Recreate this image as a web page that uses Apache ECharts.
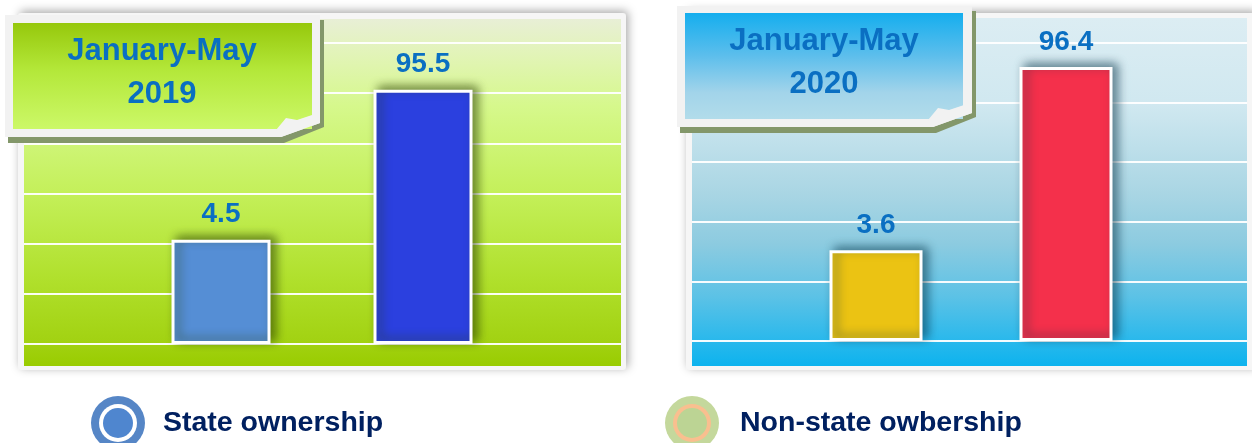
<!DOCTYPE html>
<html><head><meta charset="utf-8">
<script src="https://cdn.jsdelivr.net/npm/echarts@6/dist/echarts.min.js"></script>
<style>html,body{margin:0;padding:0;background:#fff}#c{width:1252px;height:443px}</style>
</head><body><div id="c"></div>
<script>
// ---- data ----
const categories = ['State ownership', 'Non-state owbership'];
const periods = ['January-May\n2019', 'January-May\n2020'];
const share2019 = [4.5, 95.5];
const share2020 = [3.6, 96.4];

// ---- styles ----
const colors2019 = ['#558ed5', '#2b40df'];
const colors2020 = ['#ebc313', '#f4304b'];
const labelFont = "'Liberation Sans Narrow','Arial Narrow','Liberation Sans',Arial,sans-serif";
const mainFont = "'Liberation Sans',Arial,Helvetica,sans-serif";

function lin(stops) {
  return {type: 'linear', x: 0, y: 0, x2: 0, y2: 1,
    colorStops: stops.map(s => ({offset: s[0], color: s[1]}))};
}
const gradLeft = lin([[0,'#e8efd6'],[0.1,'#e2f4b8'],[0.25,'#d6f88c'],[0.5,'#c4f05a'],[0.75,'#b0e02c'],[0.93,'#a2d212'],[1,'#99cc00']]);
const gradRight = lin([[0,'#dcedf3'],[0.25,'#d0e8f0'],[0.5,'#aad6e4'],[0.65,'#8ccbe0'],[0.8,'#5cc2e6'],[0.93,'#28b8ec'],[1,'#0db3ee']]);
const gradTitleL = lin([[0,'#96c80c'],[0.45,'#b4e83a'],[1,'#ccf868']]);
const gradTitleR = lin([[0,'#15aeee'],[0.4,'#5cbeec'],[0.75,'#a2d4ea'],[1,'#b2dcea']]);

function barSeries(values, colors, xi, yi, width, shadowColor) {
  return {
    type: 'bar', xAxisIndex: xi, yAxisIndex: yi, z: 6,
    barWidth: width,
    data: values.map((v, i) => ({value: v, itemStyle: {color: colors[i]}})),
    itemStyle: {borderColor: '#ffffff', borderWidth: 3, shadowBlur: 10,
      shadowColor: shadowColor, shadowOffsetX: 5, shadowOffsetY: -3},
    label: {show: true, position: 'top', distance: 11, color: '#0a6fc2',
      fontFamily: labelFont, fontWeight: 'bold', fontSize: 28}
  };
}

function titleBox(x0, y0, x1, y1, inner, grad, text, tx, ty) {
  const fold = 39, foldH = 14;
  return [
    {type: 'polygon', z: 10, shape: {points: [[x0+3,y0+5],[x1+4,y0+5],[x1+4,y1-foldH+4],[x1-fold+3,y1+6],[x0+3,y1+6]]},
      style: {fill: '#83976a'}},
    {type: 'polygon', z: 11, shape: {points: [[x0,y0],[x1,y0],[x1,y1-foldH],[x1-fold,y1],[x0,y1]]},
      style: {fill: '#f2f2f2'}},
    {type: 'rect', z: 12, shape: {x: inner[0], y: inner[1], width: inner[2], height: inner[3]},
      style: {fill: grad}},
    {type: 'polygon', z: 13, shape: {points: [[x1-fold-5,inner[1]+inner[3]+1],[x1-fold+5,inner[1]+inner[3]-11],[x1-fold+16,inner[1]+inner[3]-9],[x1-8,inner[1]+inner[3]-14],[x1,y1-foldH],[x1-fold,y1]]},
      style: {fill: '#f2f2f2'}},
    {type: 'text', z: 14, x: tx, y: ty,
      style: {text: text, fill: '#0a6fc2', font: 'bold 31px ' + mainFont,
        lineHeight: 43, align: 'center', verticalAlign: 'middle'}}
  ];
}

function legendIcon(cx, cy, c1, c2, c3) {
  return [
    {type: 'circle', z: 10, shape: {cx: cx, cy: cy, r: 27}, style: {fill: c1}},
    {type: 'circle', z: 11, shape: {cx: cx, cy: cy, r: 19}, style: {fill: c2}},
    {type: 'circle', z: 12, shape: {cx: cx, cy: cy, r: 15}, style: {fill: c3}}
  ];
}

const graphic = [
  // panel frames
  {type: 'rect', z: 1, shape: {x: 18, y: 13, width: 608, height: 357, r: 3},
    style: {fill: '#f6f6f6', shadowBlur: 10, shadowColor: 'rgba(0,0,0,0.35)', shadowOffsetX: 2, shadowOffsetY: -2}},
  {type: 'rect', z: 2, shape: {x: 24, y: 19, width: 597, height: 347}, style: {fill: gradLeft}},
  {type: 'rect', z: 1, shape: {x: 686, y: 13, width: 570, height: 357, r: 3},
    style: {fill: '#f6f6f6', shadowBlur: 10, shadowColor: 'rgba(0,0,0,0.35)', shadowOffsetX: 2, shadowOffsetY: -2}},
  {type: 'rect', z: 2, shape: {x: 692, y: 18, width: 555, height: 348}, style: {fill: gradRight}},
  ...titleBox(5, 15, 320, 137, [13, 23, 299, 106], gradTitleL, periods[0], 162, 73),
  ...titleBox(677, 6, 972, 127, [685, 13, 278, 106], gradTitleR, periods[1], 824, 63),
  ...legendIcon(118, 423, '#5686c6', '#ffffff', '#4f86cf'),
  ...legendIcon(692, 423, '#c4d89c', '#f9bf8f', '#bcd494'),
  {type: 'text', z: 12, x: 163, y: 423,
    style: {text: categories[0], fill: '#002060', font: 'bold 28.5px ' + mainFont, verticalAlign: 'middle'}},
  {type: 'text', z: 12, x: 740, y: 423,
    style: {text: categories[1], fill: '#002060', font: 'bold 28.5px ' + mainFont, verticalAlign: 'middle'}}
];

const lineAxis = (gi, max) => ({
  gridIndex: gi, type: 'value', min: 0, max: max, interval: 1, z: 5,
  axisLabel: {show: false}, axisLine: {show: false}, axisTick: {show: false},
  splitLine: {show: true, lineStyle: {color: 'rgba(255,255,255,0.95)', width: 2}}
});
const hiddenX = gi => ({gridIndex: gi, type: 'value', min: 0, max: 1, show: false});

const option = {
  animation: false,
  graphic: graphic,
  grid: [
    {left: 24, top: 43, width: 597, height: 301},
    {left: 692, top: 43, width: 555, height: 298},
    {left: 120, top: 19, width: 404, height: 325},
    {left: 781, top: 18, width: 380, height: 323}
  ],
  xAxis: [
    hiddenX(0), hiddenX(1),
    {gridIndex: 2, type: 'category', data: categories, show: false},
    {gridIndex: 3, type: 'category', data: categories, show: false}
  ],
  yAxis: [
    lineAxis(0, 6), lineAxis(1, 5),
    {gridIndex: 2, type: 'log', min: 0.5377, max: 403, startValue: 0.5377, show: false, splitLine: {show: false}},
    {gridIndex: 3, type: 'log', min: 0.708, max: 232.1, startValue: 0.708, show: false, splitLine: {show: false}}
  ],
  series: [
    barSeries(share2019, colors2019, 2, 2, 99, 'rgba(40,60,0,0.6)'),
    barSeries(share2020, colors2020, 3, 3, 93, 'rgba(0,45,65,0.55)')
  ]
};
const chart = echarts.init(document.getElementById('c'), null, {renderer: 'canvas'});
chart.setOption(option);
</script></body></html>
